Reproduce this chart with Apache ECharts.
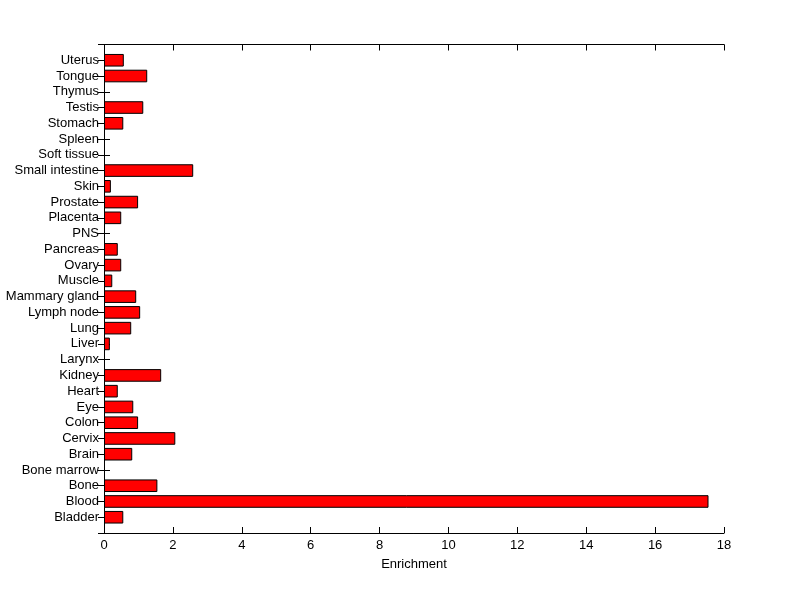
<!DOCTYPE html>
<html>
<head>
<meta charset="utf-8">
<script src="https://cdn.jsdelivr.net/npm/echarts@6/dist/echarts.min.js"></script>
<style>
  html, body { margin: 0; padding: 0; background: #fff; }
  #chart { width: 800px; height: 599px; }
</style>
</head>
<body>
<div id="chart"></div>
<script>
  // tissues, bottom to top
  const tissues = [
    'Bladder', 'Blood', 'Bone', 'Bone marrow', 'Brain', 'Cervix', 'Colon', 'Eye',
    'Heart', 'Kidney', 'Larynx', 'Liver', 'Lung', 'Lymph node', 'Mammary gland',
    'Muscle', 'Ovary', 'Pancreas', 'PNS', 'Placenta', 'Prostate', 'Skin',
    'Small intestine', 'Soft tissue', 'Spleen', 'Stomach', 'Testis', 'Thymus',
    'Tongue', 'Uterus'
  ]
  const enrichment = [
    0.56, 17.55, 1.55, 0, 0.82, 2.07, 0.99, 0.85,
    0.40, 1.66, 0, 0.17, 0.79, 1.05, 0.935,
    0.24, 0.50, 0.40, 0, 0.50, 0.99, 0.20,
    2.59, 0, 0, 0.56, 1.14, 0,
    1.255, 0.575
  ]
  const xTicks = [0, 2, 4, 6, 8, 10, 12, 14, 16, 18]

  const font = 'Liberation Sans'
  const black = '#000'

  // blank slot at each end so the bars sit one step away from the box
  const cats = [''].concat(tissues, [''])
  const vals = ['-'].concat(
    enrichment.map((v) => {
      // empty bars get no outline (would show as a stray vertical stroke)
      return v === 0 ? { value: v, itemStyle: { borderWidth: 0 } } : v
    }),
    ['-']
  )

  const chart = echarts.init(document.getElementById('chart'))

  // negative length -> tick drawn into the plot area
  const tick = { show: true, length: -6, interval: 0, lineStyle: { color: black, width: 1 } }

  const xBase = {
    type: 'value',
    min: xTicks[0],
    max: xTicks[xTicks.length - 1],
    interval: 2,
    splitLine: { show: false },
    axisLine: { show: true, lineStyle: { color: black, width: 1 } },
    axisTick: tick
  }
  const yBase = {
    type: 'category',
    data: cats,
    boundaryGap: false,
    splitLine: { show: false },
    axisLine: { show: true, lineStyle: { color: black, width: 1 } },
    axisTick: tick
  }

  chart.setOption({
    animation: false,
    grid: { left: 104, right: 76, top: 44.5, bottom: 66, containLabel: false },
    xAxis: [
      Object.assign({}, xBase, {
        position: 'bottom',
        name: 'Enrichment',
        nameLocation: 'middle',
        nameGap: 25,
        nameTextStyle: { color: black, fontFamily: font, fontSize: 13 },
        axisLabel: { color: black, fontFamily: font, fontSize: 13, margin: 6 }
      }),
      Object.assign({}, xBase, { position: 'top', axisLabel: { show: false } })
    ],
    yAxis: [
      Object.assign({}, yBase, {
        position: 'left',
        axisLabel: {
          color: black,
          fontFamily: font,
          fontSize: 13,
          margin: 5,
          interval: 0,
          padding: [3, 0, 0, 0]
        }
      }),
      Object.assign({}, yBase, { position: 'right', axisLabel: { show: false } })
    ],
    series: [
      {
        type: 'bar',
        xAxisIndex: 0,
        yAxisIndex: 0,
        data: vals,
        barWidth: 12.6,
        itemStyle: { color: '#ff0000', borderColor: black, borderWidth: 1 }
      }
    ]
  })
</script>
</body>
</html>
